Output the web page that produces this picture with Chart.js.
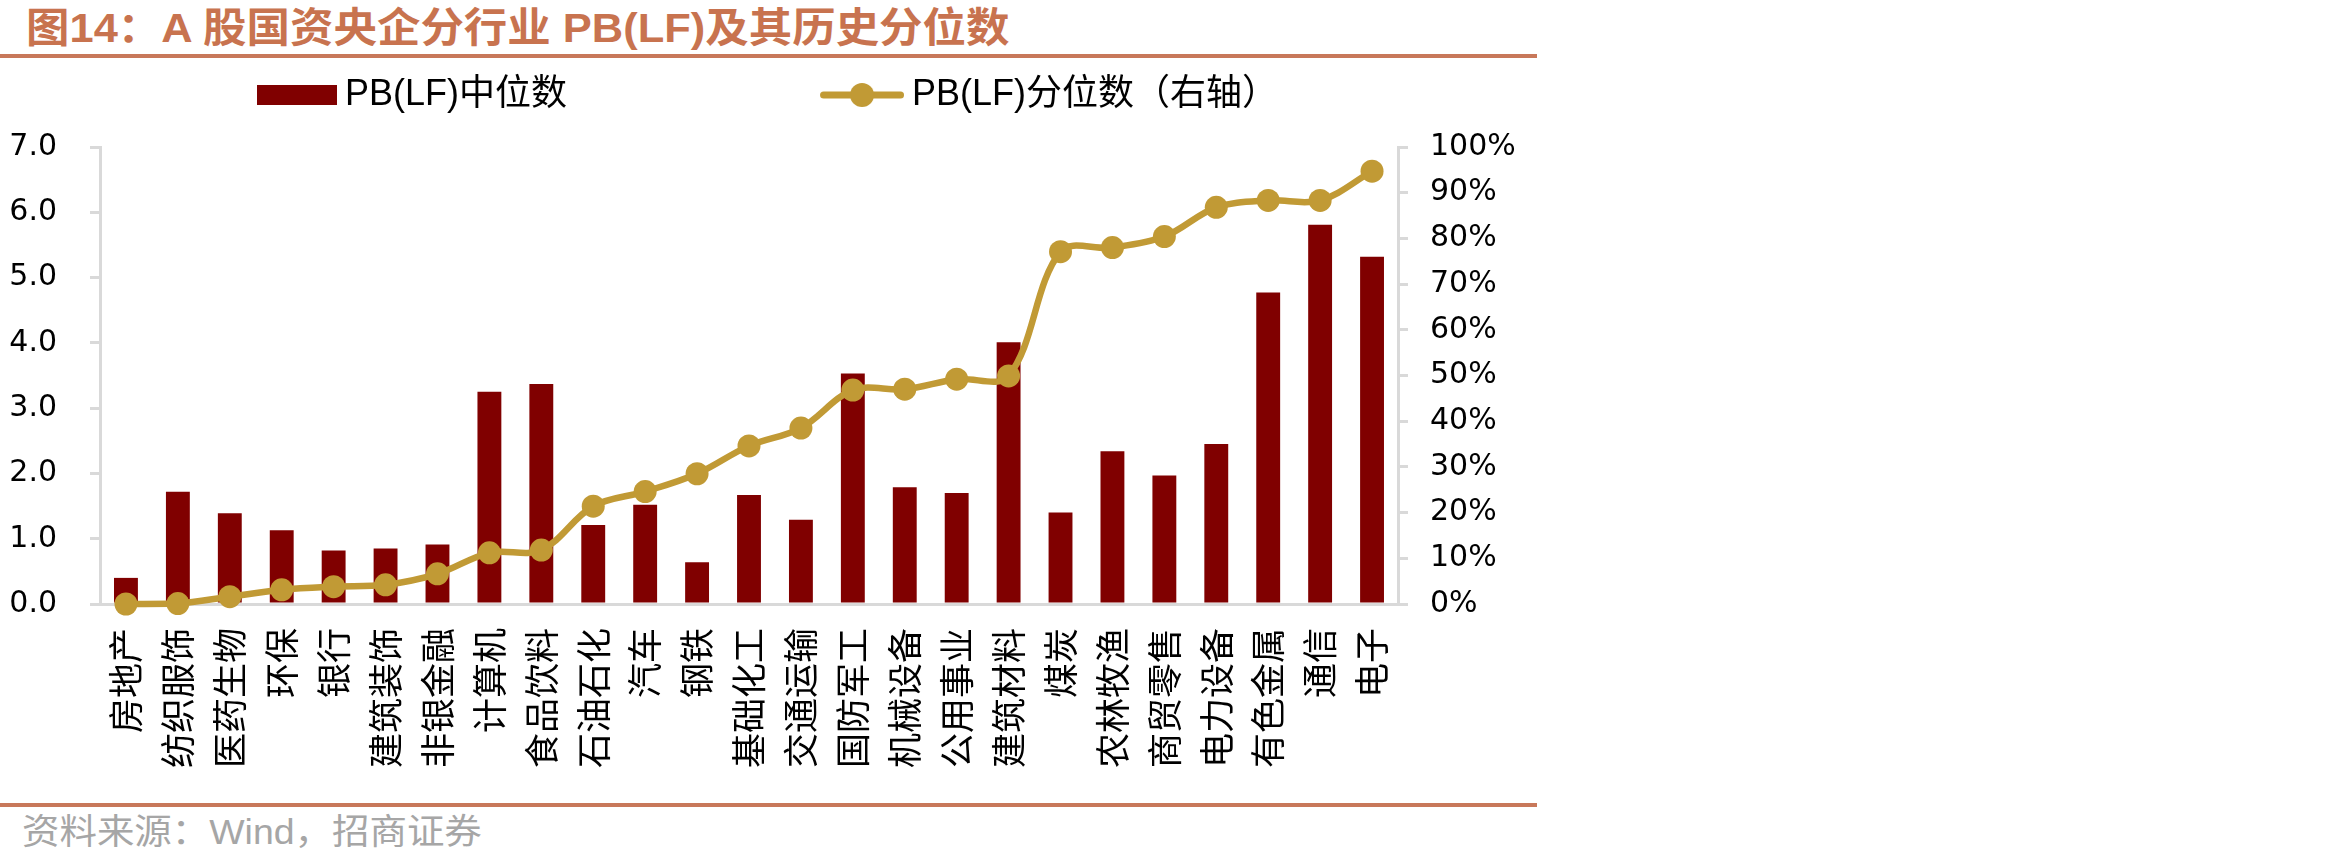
<!DOCTYPE html>
<html>
<head>
<meta charset="utf-8">
<script src="https://cdn.jsdelivr.net/npm/chart.js@4.4.1/dist/chart.umd.min.js"></script>
<style>
  html, body { margin: 0; padding: 0; background: #ffffff; }
  #wrap { position: relative; width: 2350px; height: 865px; overflow: hidden; background: #fff; }
  #title { position: absolute; left: 26px; top: 8px; font: bold 41px "Liberation Sans", "Noto Sans CJK SC", sans-serif; line-height: 41px; color: #C8734F; white-space: nowrap; transform: scaleX(1.06); transform-origin: left top; }
  .rule { position: absolute; left: 0; width: 1537px; height: 4px; background: #C8785A; }
  #src { position: absolute; left: 22px; top: 814px; font: 35px "Liberation Sans", "Noto Sans CJK SC", sans-serif; line-height: 35px; color: #A6A6A6; white-space: nowrap; transform: scaleX(1.07); transform-origin: left top; }
  #c { position: absolute; left: 0; top: 0; }
</style>
</head>
<body>
<div id="wrap">
  <div id="title">图14：A 股国资央企分行业 PB(LF)及其历史分位数</div>
  <div class="rule" style="top:54px"></div>
  <canvas id="c" width="1537" height="800"></canvas>
  <div class="rule" style="top:803px"></div>
  <div id="src">资料来源：Wind，招商证券</div>
</div>
<script>
// ---- data ----
const categories = ['房地产','纺织服饰','医药生物','环保','银行','建筑装饰','非银金融','计算机','食品饮料','石油石化','汽车','钢铁','基础化工','交通运输','国防军工','机械设备','公用事业','建筑材料','煤炭','农林牧渔','商贸零售','电力设备','有色金属','通信','电子'];
const pbMedian = [0.40,1.72,1.39,1.13,0.82,0.85,0.91,3.25,3.37,1.21,1.52,0.64,1.67,1.29,3.53,1.79,1.70,4.01,1.40,2.34,1.97,2.45,4.77,5.81,5.32];
const pbPercentile = [0.0,0.1,1.6,3.1,3.8,4.2,6.6,11.2,11.8,21.4,24.6,28.5,34.6,38.5,46.8,47.0,49.2,49.9,77.1,78.0,80.4,86.8,88.3,88.3,94.7];
const seriesNames = ['PB(LF)中位数', 'PB(LF)分位数（右轴）'];
const leftTicks = { min: 0, max: 7, step: 1 };
const rightTicks = { min: 0, max: 100, step: 10 };

const BAR_COLOR = '#800000';
const LINE_COLOR = '#C19A35';
const AXIS_COLOR = '#D9D9D9';
const LATIN_CJK = '"Liberation Sans", "Noto Sans CJK SC", sans-serif';

// legend swatches (right-aligned content inside a wide transparent image)
const SW_W = 340;
function makeBarSwatch() {
  const c = document.createElement('canvas');
  c.width = SW_W; c.height = 24;
  const g = c.getContext('2d');
  g.fillStyle = BAR_COLOR;
  g.fillRect(SW_W - 80, 2, 80, 20);
  return c;
}
function makeLineSwatch() {
  const c = document.createElement('canvas');
  c.width = SW_W; c.height = 26;
  const g = c.getContext('2d');
  g.strokeStyle = LINE_COLOR;
  g.lineWidth = 7;
  g.lineCap = 'round';
  g.beginPath();
  g.moveTo(SW_W - 84 + 3.5, 13);
  g.lineTo(SW_W - 3.5, 13);
  g.stroke();
  g.fillStyle = LINE_COLOR;
  g.beginPath();
  g.arc(SW_W - 42, 13, 12, 0, Math.PI * 2);
  g.fill();
  return c;
}
const barSwatch = makeBarSwatch();
const lineSwatch = makeLineSwatch();

const legendSpacer = {
  id: 'legendSpacer',
  beforeLayout(chart) {
    const lg = chart.legend;
    if (lg && !lg._spacerPatched) {
      const orig = lg.fit;
      lg.fit = function () { orig.call(this); this.height += 24; };
      lg._spacerPatched = true;
    }
  }
};

new Chart(document.getElementById('c'), {
  data: {
    labels: categories,
    datasets: [
      {
        type: 'line',
        label: seriesNames[1],
        data: pbPercentile,
        yAxisID: 'y1',
        borderColor: LINE_COLOR,
        backgroundColor: LINE_COLOR,
        borderWidth: 6.5,
        tension: 0.35,
        pointRadius: 11.5,
        pointHoverRadius: 11.5,
        pointBorderWidth: 0,
        pointBackgroundColor: LINE_COLOR,
        borderJoinStyle: 'round',
        borderCapStyle: 'round',
        clip: false,
        order: 0
      },
      {
        type: 'bar',
        label: seriesNames[0],
        data: pbMedian,
        yAxisID: 'y',
        backgroundColor: BAR_COLOR,
        borderWidth: 0,
        categoryPercentage: 1.0,
        barPercentage: 0.46,
        order: 1
      }
    ]
  },
  options: {
    responsive: false,
    animation: false,
    devicePixelRatio: 1,
    layout: { padding: { top: 70, left: 0, right: 0, bottom: 0 } },
    plugins: {
      tooltip: { enabled: false },
      legend: {
        display: true,
        position: 'top',
        align: 'start',
        labels: {
          usePointStyle: true,
          pointStyleWidth: 320,
          padding: 7,
          color: '#000',
          font: { family: LATIN_CJK, size: 36 },
          generateLabels: () => [
            { text: seriesNames[0], pointStyle: barSwatch, fillStyle: BAR_COLOR, strokeStyle: BAR_COLOR, lineWidth: 0, hidden: false, datasetIndex: 1 },
            { text: seriesNames[1], pointStyle: lineSwatch, fillStyle: LINE_COLOR, strokeStyle: LINE_COLOR, lineWidth: 0, hidden: false, datasetIndex: 0 }
          ]
        }
      }
    },
    scales: {
      x: {
        type: 'category',
        offset: true,
        grid: { display: false, drawTicks: false },
        border: { display: true, color: AXIS_COLOR, width: 3 },
        ticks: {
          autoSkip: false,
          maxRotation: 90,
          minRotation: 90,
          padding: 24,
          color: '#000',
          font: { family: '"Noto Sans CJK SC", sans-serif', size: 35 }
        },
        afterFit(s) { s.height = 196; }
      },
      y: {
        position: 'left',
        min: leftTicks.min,
        max: leftTicks.max,
        ticks: {
          stepSize: leftTicks.step,
          padding: 33,
          color: '#000',
          font: { family: '"DejaVu Sans", sans-serif', size: 30 },
          callback: v => Number(v).toFixed(1)
        },
        grid: { drawOnChartArea: false, drawTicks: true, tickLength: 10, color: AXIS_COLOR, lineWidth: 3 },
        border: { display: true, color: AXIS_COLOR, width: 3 },
        afterFit(s) { s.width = 100; }
      },
      y1: {
        position: 'right',
        min: rightTicks.min,
        max: rightTicks.max,
        ticks: {
          stepSize: rightTicks.step,
          padding: 22,
          color: '#000',
          font: { family: '"DejaVu Sans", sans-serif', size: 30 },
          callback: v => v + '%'
        },
        grid: { drawOnChartArea: false, drawTicks: true, tickLength: 10, color: AXIS_COLOR, lineWidth: 3 },
        border: { display: true, color: AXIS_COLOR, width: 3 },
        afterFit(s) { s.width = 139; }
      }
    }
  },
  plugins: [legendSpacer]
});
</script>
</body>
</html>
